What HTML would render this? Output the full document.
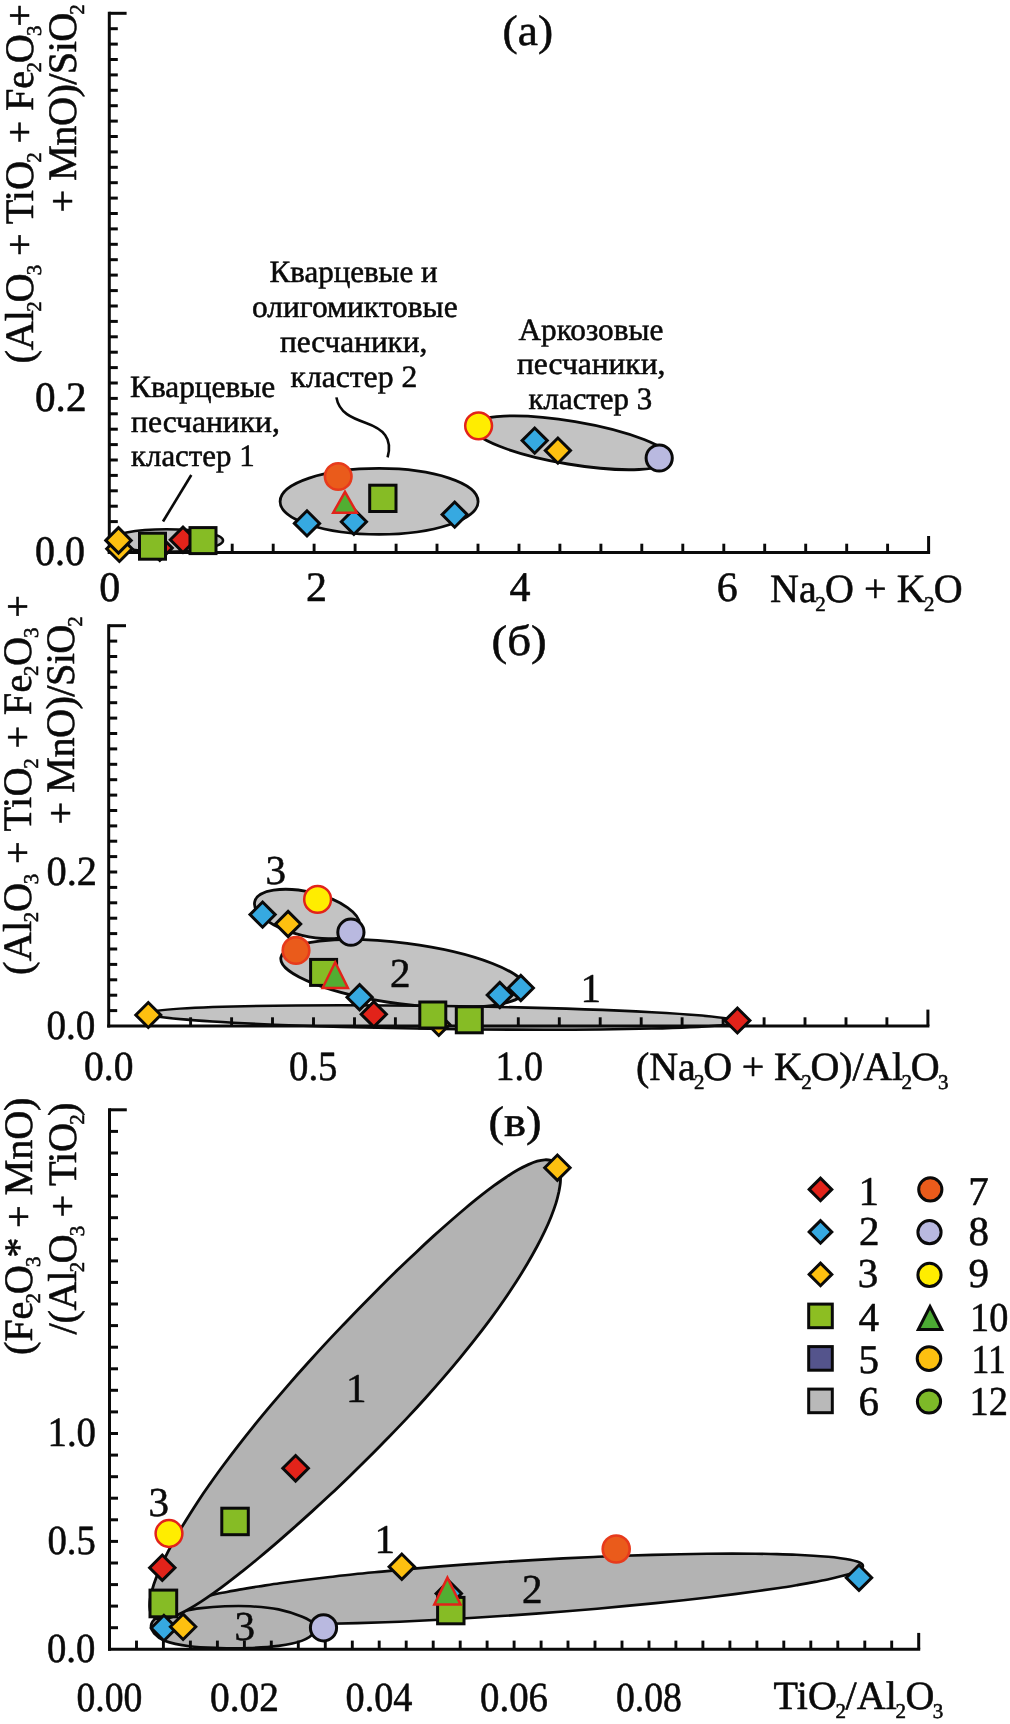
<!DOCTYPE html>
<html lang="ru"><head><meta charset="utf-8"><title>Figure</title>
<style>html,body{margin:0;padding:0;background:#fff}svg{display:block;will-change:transform;text-rendering:geometricPrecision}</style>
</head><body>
<svg width="1010" height="1724" viewBox="0 0 1010 1724" font-family="'Liberation Serif', serif" fill="#0a0a0a">
<style>text{stroke:#0a0a0a;stroke-width:.55px;stroke-linejoin:round}</style>
<rect width="1010" height="1724" fill="#fff"/>
<g id="panel-a">
<ellipse cx="166.5" cy="540.5" rx="56.5" ry="11.2" transform="rotate(0 166.5 540.5)" fill="#c3c3c3" stroke="#0a0a0a" stroke-width="2.6"/>
<ellipse cx="379.1" cy="501.4" rx="99" ry="33" transform="rotate(0 379.1 501.4)" fill="#c3c3c3" stroke="#0a0a0a" stroke-width="2.8"/>
<ellipse cx="571.5" cy="442.8" rx="100.5" ry="21.5" transform="rotate(9.5 571.5 442.8)" fill="#c3c3c3" stroke="#0a0a0a" stroke-width="2.8"/>
<line x1="109.3" y1="11.8" x2="109.3" y2="553.9" stroke="#0a0a0a" stroke-width="3" stroke-linecap="butt"/>
<line x1="107.8" y1="552.4" x2="930.1" y2="552.4" stroke="#0a0a0a" stroke-width="3" stroke-linecap="butt"/>
<line x1="109.3" y1="537.0" x2="117.8" y2="537.0" stroke="#0a0a0a" stroke-width="3" stroke-linecap="butt"/>
<line x1="109.3" y1="521.6" x2="117.8" y2="521.6" stroke="#0a0a0a" stroke-width="3" stroke-linecap="butt"/>
<line x1="109.3" y1="506.2" x2="117.8" y2="506.2" stroke="#0a0a0a" stroke-width="3" stroke-linecap="butt"/>
<line x1="109.3" y1="490.8" x2="117.8" y2="490.8" stroke="#0a0a0a" stroke-width="3" stroke-linecap="butt"/>
<line x1="109.3" y1="475.4" x2="117.8" y2="475.4" stroke="#0a0a0a" stroke-width="3" stroke-linecap="butt"/>
<line x1="109.3" y1="460.0" x2="117.8" y2="460.0" stroke="#0a0a0a" stroke-width="3" stroke-linecap="butt"/>
<line x1="109.3" y1="444.6" x2="117.8" y2="444.6" stroke="#0a0a0a" stroke-width="3" stroke-linecap="butt"/>
<line x1="109.3" y1="429.2" x2="117.8" y2="429.2" stroke="#0a0a0a" stroke-width="3" stroke-linecap="butt"/>
<line x1="109.3" y1="413.8" x2="117.8" y2="413.8" stroke="#0a0a0a" stroke-width="3" stroke-linecap="butt"/>
<line x1="109.3" y1="398.4" x2="117.8" y2="398.4" stroke="#0a0a0a" stroke-width="3" stroke-linecap="butt"/>
<line x1="109.3" y1="383.0" x2="117.8" y2="383.0" stroke="#0a0a0a" stroke-width="3" stroke-linecap="butt"/>
<line x1="109.3" y1="367.6" x2="117.8" y2="367.6" stroke="#0a0a0a" stroke-width="3" stroke-linecap="butt"/>
<line x1="109.3" y1="352.2" x2="117.8" y2="352.2" stroke="#0a0a0a" stroke-width="3" stroke-linecap="butt"/>
<line x1="109.3" y1="336.8" x2="117.8" y2="336.8" stroke="#0a0a0a" stroke-width="3" stroke-linecap="butt"/>
<line x1="109.3" y1="321.4" x2="117.8" y2="321.4" stroke="#0a0a0a" stroke-width="3" stroke-linecap="butt"/>
<line x1="109.3" y1="306.0" x2="117.8" y2="306.0" stroke="#0a0a0a" stroke-width="3" stroke-linecap="butt"/>
<line x1="109.3" y1="290.6" x2="117.8" y2="290.6" stroke="#0a0a0a" stroke-width="3" stroke-linecap="butt"/>
<line x1="109.3" y1="275.1" x2="117.8" y2="275.1" stroke="#0a0a0a" stroke-width="3" stroke-linecap="butt"/>
<line x1="109.3" y1="259.7" x2="117.8" y2="259.7" stroke="#0a0a0a" stroke-width="3" stroke-linecap="butt"/>
<line x1="109.3" y1="244.3" x2="117.8" y2="244.3" stroke="#0a0a0a" stroke-width="3" stroke-linecap="butt"/>
<line x1="109.3" y1="228.9" x2="117.8" y2="228.9" stroke="#0a0a0a" stroke-width="3" stroke-linecap="butt"/>
<line x1="109.3" y1="213.5" x2="117.8" y2="213.5" stroke="#0a0a0a" stroke-width="3" stroke-linecap="butt"/>
<line x1="109.3" y1="198.1" x2="117.8" y2="198.1" stroke="#0a0a0a" stroke-width="3" stroke-linecap="butt"/>
<line x1="109.3" y1="182.7" x2="117.8" y2="182.7" stroke="#0a0a0a" stroke-width="3" stroke-linecap="butt"/>
<line x1="109.3" y1="167.3" x2="117.8" y2="167.3" stroke="#0a0a0a" stroke-width="3" stroke-linecap="butt"/>
<line x1="109.3" y1="151.9" x2="117.8" y2="151.9" stroke="#0a0a0a" stroke-width="3" stroke-linecap="butt"/>
<line x1="109.3" y1="136.5" x2="117.8" y2="136.5" stroke="#0a0a0a" stroke-width="3" stroke-linecap="butt"/>
<line x1="109.3" y1="121.1" x2="117.8" y2="121.1" stroke="#0a0a0a" stroke-width="3" stroke-linecap="butt"/>
<line x1="109.3" y1="105.7" x2="117.8" y2="105.7" stroke="#0a0a0a" stroke-width="3" stroke-linecap="butt"/>
<line x1="109.3" y1="90.3" x2="117.8" y2="90.3" stroke="#0a0a0a" stroke-width="3" stroke-linecap="butt"/>
<line x1="109.3" y1="74.9" x2="117.8" y2="74.9" stroke="#0a0a0a" stroke-width="3" stroke-linecap="butt"/>
<line x1="109.3" y1="59.5" x2="117.8" y2="59.5" stroke="#0a0a0a" stroke-width="3" stroke-linecap="butt"/>
<line x1="109.3" y1="44.1" x2="117.8" y2="44.1" stroke="#0a0a0a" stroke-width="3" stroke-linecap="butt"/>
<line x1="109.3" y1="28.7" x2="117.8" y2="28.7" stroke="#0a0a0a" stroke-width="3" stroke-linecap="butt"/>
<line x1="109.3" y1="13.3" x2="126.6" y2="13.3" stroke="#0a0a0a" stroke-width="3" stroke-linecap="butt"/>
<line x1="150.3" y1="552.4" x2="150.3" y2="543.7" stroke="#0a0a0a" stroke-width="2.9" stroke-linecap="butt"/>
<line x1="191.2" y1="552.4" x2="191.2" y2="543.7" stroke="#0a0a0a" stroke-width="2.9" stroke-linecap="butt"/>
<line x1="232.2" y1="552.4" x2="232.2" y2="543.7" stroke="#0a0a0a" stroke-width="2.9" stroke-linecap="butt"/>
<line x1="273.2" y1="552.4" x2="273.2" y2="543.7" stroke="#0a0a0a" stroke-width="2.9" stroke-linecap="butt"/>
<line x1="314.1" y1="552.4" x2="314.1" y2="543.7" stroke="#0a0a0a" stroke-width="2.9" stroke-linecap="butt"/>
<line x1="355.1" y1="552.4" x2="355.1" y2="543.7" stroke="#0a0a0a" stroke-width="2.9" stroke-linecap="butt"/>
<line x1="396.1" y1="552.4" x2="396.1" y2="543.7" stroke="#0a0a0a" stroke-width="2.9" stroke-linecap="butt"/>
<line x1="437.0" y1="552.4" x2="437.0" y2="543.7" stroke="#0a0a0a" stroke-width="2.9" stroke-linecap="butt"/>
<line x1="478.0" y1="552.4" x2="478.0" y2="543.7" stroke="#0a0a0a" stroke-width="2.9" stroke-linecap="butt"/>
<line x1="519.0" y1="552.4" x2="519.0" y2="543.7" stroke="#0a0a0a" stroke-width="2.9" stroke-linecap="butt"/>
<line x1="559.9" y1="552.4" x2="559.9" y2="543.7" stroke="#0a0a0a" stroke-width="2.9" stroke-linecap="butt"/>
<line x1="600.9" y1="552.4" x2="600.9" y2="543.7" stroke="#0a0a0a" stroke-width="2.9" stroke-linecap="butt"/>
<line x1="641.8" y1="552.4" x2="641.8" y2="543.7" stroke="#0a0a0a" stroke-width="2.9" stroke-linecap="butt"/>
<line x1="682.8" y1="552.4" x2="682.8" y2="543.7" stroke="#0a0a0a" stroke-width="2.9" stroke-linecap="butt"/>
<line x1="723.8" y1="552.4" x2="723.8" y2="543.7" stroke="#0a0a0a" stroke-width="2.9" stroke-linecap="butt"/>
<line x1="764.7" y1="552.4" x2="764.7" y2="543.7" stroke="#0a0a0a" stroke-width="2.9" stroke-linecap="butt"/>
<line x1="805.7" y1="552.4" x2="805.7" y2="543.7" stroke="#0a0a0a" stroke-width="2.9" stroke-linecap="butt"/>
<line x1="846.7" y1="552.4" x2="846.7" y2="543.7" stroke="#0a0a0a" stroke-width="2.9" stroke-linecap="butt"/>
<line x1="887.6" y1="552.4" x2="887.6" y2="543.7" stroke="#0a0a0a" stroke-width="2.9" stroke-linecap="butt"/>
<line x1="928.6" y1="552.4" x2="928.6" y2="536.0" stroke="#0a0a0a" stroke-width="3" stroke-linecap="butt"/>
<line x1="191.3" y1="475.0" x2="163.0" y2="521.5" stroke="#0a0a0a" stroke-width="2.6" stroke-linecap="butt"/>
<path d="M336.4 397.4 C 339 413, 352 418, 366 423 C 383 429, 393 438, 387.6 457.3" fill="none" stroke="#0a0a0a" stroke-width="2.6"/>
<path d="M106.7 548.8L119.4 536.1L132.1 548.8L119.4 561.5Z" fill="#fdc010" stroke="#0a0a0a" stroke-width="3" stroke-linejoin="miter"/>
<path d="M105.8 540.4L118.5 527.7L131.2 540.4L118.5 553.1Z" fill="#fdc010" stroke="#0a0a0a" stroke-width="3" stroke-linejoin="miter"/>
<path d="M147.3 548.0L159.8 535.5L172.3 548.0L159.8 560.5Z" fill="#e2231a" stroke="#0a0a0a" stroke-width="3" stroke-linejoin="miter"/>
<rect x="139.5" y="533.2" width="26" height="26" fill="#86bc25" stroke="#0a0a0a" stroke-width="3"/>
<path d="M170.3 539.8L183.0 527.1L195.7 539.8L183.0 552.5Z" fill="#e2231a" stroke="#0a0a0a" stroke-width="3" stroke-linejoin="miter"/>
<rect x="190.0" y="527.6" width="26" height="26" fill="#86bc25" stroke="#0a0a0a" stroke-width="3"/>
<path d="M294.4 523.4L307.0 510.8L319.6 523.4L307.0 536.0Z" fill="#36a9e1" stroke="#0a0a0a" stroke-width="3" stroke-linejoin="miter"/>
<path d="M341.3 521.8L353.9 509.2L366.5 521.8L353.9 534.4Z" fill="#36a9e1" stroke="#0a0a0a" stroke-width="3" stroke-linejoin="miter"/>
<path d="M442.1 514.6L454.7 502.0L467.3 514.6L454.7 527.2Z" fill="#36a9e1" stroke="#0a0a0a" stroke-width="3" stroke-linejoin="miter"/>
<rect x="369.7" y="485.2" width="26.3" height="26.3" fill="#86bc25" stroke="#0a0a0a" stroke-width="3"/>
<path d="M345.0 491.8L356.8 512.7L333.2 512.7Z" fill="#52ae32" stroke="#e2231a" stroke-width="2.5" stroke-linejoin="miter"/>
<circle cx="338.2" cy="476.5" r="13.3" fill="#ea5b1b" stroke="#e73a1c" stroke-width="2.6"/>
<path d="M522.1 440.6L534.7 428.0L547.3 440.6L534.7 453.2Z" fill="#36a9e1" stroke="#0a0a0a" stroke-width="3" stroke-linejoin="miter"/>
<path d="M545.3 450.6L557.9 438.0L570.5 450.6L557.9 463.2Z" fill="#fdc010" stroke="#0a0a0a" stroke-width="3" stroke-linejoin="miter"/>
<circle cx="478.6" cy="425.8" r="13.4" fill="#ffed00" stroke="#e2231a" stroke-width="2.5"/>
<circle cx="659.2" cy="458.0" r="13.1" fill="#b9b9e0" stroke="#0a0a0a" stroke-width="3"/>
<text x="502.50" y="45.00" font-size="43" textLength="50.55" lengthAdjust="spacingAndGlyphs">(а)</text>
<text x="269.50" y="281.60" font-size="31" textLength="168.02" lengthAdjust="spacingAndGlyphs">Кварцевые и</text>
<text x="252.00" y="316.50" font-size="31" textLength="205.60" lengthAdjust="spacingAndGlyphs">олигомиктовые</text>
<text x="280.00" y="351.70" font-size="31" textLength="147.32" lengthAdjust="spacingAndGlyphs">песчаники,</text>
<text x="290.50" y="386.60" font-size="31" textLength="126.73" lengthAdjust="spacingAndGlyphs">кластер 2</text>
<text x="130.00" y="397.30" font-size="31" textLength="145.28" lengthAdjust="spacingAndGlyphs">Кварцевые</text>
<text x="131.00" y="431.50" font-size="31" textLength="148.87" lengthAdjust="spacingAndGlyphs">песчаники,</text>
<text x="131.00" y="466.20" font-size="31" textLength="123.64" lengthAdjust="spacingAndGlyphs">кластер 1</text>
<text x="518.50" y="340.10" font-size="31" textLength="144.79" lengthAdjust="spacingAndGlyphs">Аркозовые</text>
<text x="517.00" y="374.20" font-size="31" textLength="148.37" lengthAdjust="spacingAndGlyphs">песчаники,</text>
<text x="528.50" y="409.10" font-size="31" textLength="123.65" lengthAdjust="spacingAndGlyphs">кластер 3</text>
<text x="35.00" y="565.30" font-size="42" textLength="49.99" lengthAdjust="spacingAndGlyphs">0.0</text>
<text x="35.00" y="411.00" font-size="42" textLength="51.55" lengthAdjust="spacingAndGlyphs">0.2</text>
<text x="99.30" y="600.80" font-size="42">0</text>
<text x="306.00" y="600.80" font-size="42">2</text>
<text x="509.40" y="600.80" font-size="42">4</text>
<text x="716.70" y="600.80" font-size="42">6</text>
<text x="770.00" y="601.60" font-size="40" textLength="192.68" lengthAdjust="spacing">Na<tspan dy="9.2" dx="-1.6" font-size="21">2</tspan><tspan dy="-9.2" dx="-0.9" font-size="1">&#8203;</tspan>O + K<tspan dy="9.2" dx="-1.6" font-size="21">2</tspan><tspan dy="-9.2" dx="-0.9" font-size="1">&#8203;</tspan>O</text>
<text x="33.10" y="363.50" font-size="40.4" textLength="359.60" lengthAdjust="spacing" transform="rotate(-90 33.10 363.50)">(Al<tspan dy="7.8" dx="-1.6" font-size="21">2</tspan><tspan dy="-7.8" dx="-0.9" font-size="1">&#8203;</tspan>O<tspan dy="7.8" dx="-1.6" font-size="21">3</tspan><tspan dy="-7.8" dx="-0.9" font-size="1">&#8203;</tspan> + TiO<tspan dy="7.8" dx="-1.6" font-size="21">2</tspan><tspan dy="-7.8" dx="-0.9" font-size="1">&#8203;</tspan> + Fe<tspan dy="7.8" dx="-1.6" font-size="21">2</tspan><tspan dy="-7.8" dx="-0.9" font-size="1">&#8203;</tspan>O<tspan dy="7.8" dx="-1.6" font-size="21">3</tspan><tspan dy="-7.8" dx="-0.9" font-size="1">&#8203;</tspan>+</text>
<text x="76.00" y="212.50" font-size="40.4" textLength="207.59" lengthAdjust="spacing" transform="rotate(-90 76.00 212.50)">+ MnO)/SiO<tspan dy="7.8" dx="-1.6" font-size="21">2</tspan><tspan dy="-7.8" dx="-0.9" font-size="1">&#8203;</tspan></text>
</g>
<g id="panel-b">
<ellipse cx="307" cy="914" rx="53.7" ry="22" transform="rotate(13.2 307 914)" fill="#c3c3c3" stroke="#0a0a0a" stroke-width="2.8"/>
<ellipse cx="403.2" cy="973.6" rx="123.4" ry="30.4" transform="rotate(7.4 403.2 973.6)" fill="#c3c3c3" stroke="#0a0a0a" stroke-width="2.8"/>
<ellipse cx="442.5" cy="1017.5" rx="296" ry="11.5" transform="rotate(0.8 442.5 1017.5)" fill="#c3c3c3" stroke="#0a0a0a" stroke-width="2.6"/>
<line x1="108.7" y1="624.2" x2="108.7" y2="1027.5" stroke="#0a0a0a" stroke-width="3" stroke-linecap="butt"/>
<line x1="107.2" y1="1026.0" x2="929.4" y2="1026.0" stroke="#0a0a0a" stroke-width="3" stroke-linecap="butt"/>
<line x1="108.7" y1="1010.6" x2="117.2" y2="1010.6" stroke="#0a0a0a" stroke-width="3" stroke-linecap="butt"/>
<line x1="108.7" y1="995.2" x2="117.2" y2="995.2" stroke="#0a0a0a" stroke-width="3" stroke-linecap="butt"/>
<line x1="108.7" y1="979.8" x2="117.2" y2="979.8" stroke="#0a0a0a" stroke-width="3" stroke-linecap="butt"/>
<line x1="108.7" y1="964.4" x2="117.2" y2="964.4" stroke="#0a0a0a" stroke-width="3" stroke-linecap="butt"/>
<line x1="108.7" y1="949.0" x2="117.2" y2="949.0" stroke="#0a0a0a" stroke-width="3" stroke-linecap="butt"/>
<line x1="108.7" y1="933.6" x2="117.2" y2="933.6" stroke="#0a0a0a" stroke-width="3" stroke-linecap="butt"/>
<line x1="108.7" y1="918.2" x2="117.2" y2="918.2" stroke="#0a0a0a" stroke-width="3" stroke-linecap="butt"/>
<line x1="108.7" y1="902.8" x2="117.2" y2="902.8" stroke="#0a0a0a" stroke-width="3" stroke-linecap="butt"/>
<line x1="108.7" y1="887.4" x2="117.2" y2="887.4" stroke="#0a0a0a" stroke-width="3" stroke-linecap="butt"/>
<line x1="108.7" y1="872.0" x2="117.2" y2="872.0" stroke="#0a0a0a" stroke-width="3" stroke-linecap="butt"/>
<line x1="108.7" y1="856.6" x2="117.2" y2="856.6" stroke="#0a0a0a" stroke-width="3" stroke-linecap="butt"/>
<line x1="108.7" y1="841.2" x2="117.2" y2="841.2" stroke="#0a0a0a" stroke-width="3" stroke-linecap="butt"/>
<line x1="108.7" y1="825.9" x2="117.2" y2="825.9" stroke="#0a0a0a" stroke-width="3" stroke-linecap="butt"/>
<line x1="108.7" y1="810.5" x2="117.2" y2="810.5" stroke="#0a0a0a" stroke-width="3" stroke-linecap="butt"/>
<line x1="108.7" y1="795.1" x2="117.2" y2="795.1" stroke="#0a0a0a" stroke-width="3" stroke-linecap="butt"/>
<line x1="108.7" y1="779.7" x2="117.2" y2="779.7" stroke="#0a0a0a" stroke-width="3" stroke-linecap="butt"/>
<line x1="108.7" y1="764.3" x2="117.2" y2="764.3" stroke="#0a0a0a" stroke-width="3" stroke-linecap="butt"/>
<line x1="108.7" y1="748.9" x2="117.2" y2="748.9" stroke="#0a0a0a" stroke-width="3" stroke-linecap="butt"/>
<line x1="108.7" y1="733.5" x2="117.2" y2="733.5" stroke="#0a0a0a" stroke-width="3" stroke-linecap="butt"/>
<line x1="108.7" y1="718.1" x2="117.2" y2="718.1" stroke="#0a0a0a" stroke-width="3" stroke-linecap="butt"/>
<line x1="108.7" y1="702.7" x2="117.2" y2="702.7" stroke="#0a0a0a" stroke-width="3" stroke-linecap="butt"/>
<line x1="108.7" y1="687.3" x2="117.2" y2="687.3" stroke="#0a0a0a" stroke-width="3" stroke-linecap="butt"/>
<line x1="108.7" y1="671.9" x2="117.2" y2="671.9" stroke="#0a0a0a" stroke-width="3" stroke-linecap="butt"/>
<line x1="108.7" y1="656.5" x2="117.2" y2="656.5" stroke="#0a0a0a" stroke-width="3" stroke-linecap="butt"/>
<line x1="108.7" y1="641.1" x2="117.2" y2="641.1" stroke="#0a0a0a" stroke-width="3" stroke-linecap="butt"/>
<line x1="108.7" y1="625.7" x2="126.0" y2="625.7" stroke="#0a0a0a" stroke-width="3" stroke-linecap="butt"/>
<line x1="149.7" y1="1026.0" x2="149.7" y2="1017.3" stroke="#0a0a0a" stroke-width="2.9" stroke-linecap="butt"/>
<line x1="190.6" y1="1026.0" x2="190.6" y2="1017.3" stroke="#0a0a0a" stroke-width="2.9" stroke-linecap="butt"/>
<line x1="231.6" y1="1026.0" x2="231.6" y2="1017.3" stroke="#0a0a0a" stroke-width="2.9" stroke-linecap="butt"/>
<line x1="272.5" y1="1026.0" x2="272.5" y2="1017.3" stroke="#0a0a0a" stroke-width="2.9" stroke-linecap="butt"/>
<line x1="313.5" y1="1026.0" x2="313.5" y2="1017.3" stroke="#0a0a0a" stroke-width="2.9" stroke-linecap="butt"/>
<line x1="354.5" y1="1026.0" x2="354.5" y2="1017.3" stroke="#0a0a0a" stroke-width="2.9" stroke-linecap="butt"/>
<line x1="395.4" y1="1026.0" x2="395.4" y2="1017.3" stroke="#0a0a0a" stroke-width="2.9" stroke-linecap="butt"/>
<line x1="436.4" y1="1026.0" x2="436.4" y2="1017.3" stroke="#0a0a0a" stroke-width="2.9" stroke-linecap="butt"/>
<line x1="477.3" y1="1026.0" x2="477.3" y2="1017.3" stroke="#0a0a0a" stroke-width="2.9" stroke-linecap="butt"/>
<line x1="518.3" y1="1026.0" x2="518.3" y2="1017.3" stroke="#0a0a0a" stroke-width="2.9" stroke-linecap="butt"/>
<line x1="559.3" y1="1026.0" x2="559.3" y2="1017.3" stroke="#0a0a0a" stroke-width="2.9" stroke-linecap="butt"/>
<line x1="600.2" y1="1026.0" x2="600.2" y2="1017.3" stroke="#0a0a0a" stroke-width="2.9" stroke-linecap="butt"/>
<line x1="641.2" y1="1026.0" x2="641.2" y2="1017.3" stroke="#0a0a0a" stroke-width="2.9" stroke-linecap="butt"/>
<line x1="682.1" y1="1026.0" x2="682.1" y2="1017.3" stroke="#0a0a0a" stroke-width="2.9" stroke-linecap="butt"/>
<line x1="723.1" y1="1026.0" x2="723.1" y2="1017.3" stroke="#0a0a0a" stroke-width="2.9" stroke-linecap="butt"/>
<line x1="764.1" y1="1026.0" x2="764.1" y2="1017.3" stroke="#0a0a0a" stroke-width="2.9" stroke-linecap="butt"/>
<line x1="805.0" y1="1026.0" x2="805.0" y2="1017.3" stroke="#0a0a0a" stroke-width="2.9" stroke-linecap="butt"/>
<line x1="846.0" y1="1026.0" x2="846.0" y2="1017.3" stroke="#0a0a0a" stroke-width="2.9" stroke-linecap="butt"/>
<line x1="886.9" y1="1026.0" x2="886.9" y2="1017.3" stroke="#0a0a0a" stroke-width="2.9" stroke-linecap="butt"/>
<line x1="927.9" y1="1026.0" x2="927.9" y2="1009.6" stroke="#0a0a0a" stroke-width="3" stroke-linecap="butt"/>
<path d="M135.8 1015.0L148.3 1002.5L160.8 1015.0L148.3 1027.5Z" fill="#fdc010" stroke="#0a0a0a" stroke-width="3" stroke-linejoin="miter"/>
<path d="M724.9 1020.5L737.4 1008.0L749.9 1020.5L737.4 1033.0Z" fill="#e2231a" stroke="#0a0a0a" stroke-width="3" stroke-linejoin="miter"/>
<path d="M427.8 1024.5L438.8 1013.5L449.8 1024.5L438.8 1035.5Z" fill="#fdc010" stroke="#0a0a0a" stroke-width="3" stroke-linejoin="miter"/>
<rect x="419.8" y="1002.0" width="26" height="26" fill="#86bc25" stroke="#0a0a0a" stroke-width="3"/>
<rect x="456.3" y="1006.8" width="26" height="26" fill="#86bc25" stroke="#0a0a0a" stroke-width="3"/>
<path d="M361.2 1014.3L373.8 1001.7L386.4 1014.3L373.8 1026.9Z" fill="#e2231a" stroke="#0a0a0a" stroke-width="3" stroke-linejoin="miter"/>
<path d="M347.0 997.2L359.6 984.6L372.2 997.2L359.6 1009.8Z" fill="#36a9e1" stroke="#0a0a0a" stroke-width="3" stroke-linejoin="miter"/>
<path d="M487.2 995.0L499.8 982.4L512.4 995.0L499.8 1007.6Z" fill="#36a9e1" stroke="#0a0a0a" stroke-width="3" stroke-linejoin="miter"/>
<path d="M508.2 988.0L520.8 975.4L533.4 988.0L520.8 1000.6Z" fill="#36a9e1" stroke="#0a0a0a" stroke-width="3" stroke-linejoin="miter"/>
<rect x="310.6" y="959.4" width="26" height="26" fill="#86bc25" stroke="#0a0a0a" stroke-width="3"/>
<path d="M335.2 962.3L347.9 987.9L322.6 987.9Z" fill="#52ae32" stroke="#e2231a" stroke-width="2.5" stroke-linejoin="miter"/>
<circle cx="296.0" cy="950.4" r="13.3" fill="#ea5b1b" stroke="#e73a1c" stroke-width="2.6"/>
<path d="M250.0 914.6L262.6 902.0L275.2 914.6L262.6 927.2Z" fill="#36a9e1" stroke="#0a0a0a" stroke-width="3" stroke-linejoin="miter"/>
<path d="M275.5 924.0L288.1 911.4L300.7 924.0L288.1 936.6Z" fill="#fdc010" stroke="#0a0a0a" stroke-width="3" stroke-linejoin="miter"/>
<circle cx="317.6" cy="899.4" r="13.4" fill="#ffed00" stroke="#e2231a" stroke-width="2.5"/>
<circle cx="350.9" cy="932.2" r="13.1" fill="#b9b9e0" stroke="#0a0a0a" stroke-width="3"/>
<text x="491.50" y="655.10" font-size="43" textLength="55.18" lengthAdjust="spacingAndGlyphs">(б)</text>
<text x="46.50" y="1039.00" font-size="41.5" textLength="48.94" lengthAdjust="spacingAndGlyphs">0.0</text>
<text x="46.50" y="885.00" font-size="41.5" textLength="50.54" lengthAdjust="spacingAndGlyphs">0.2</text>
<text x="84.00" y="1079.50" font-size="41.5" textLength="49.45" lengthAdjust="spacingAndGlyphs">0.0</text>
<text x="289.00" y="1079.50" font-size="41.5" textLength="48.47" lengthAdjust="spacingAndGlyphs">0.5</text>
<text x="495.50" y="1079.50" font-size="41.5" textLength="47.55" lengthAdjust="spacingAndGlyphs">1.0</text>
<text x="636.00" y="1079.60" font-size="40" textLength="312.25" lengthAdjust="spacing">(Na<tspan dy="9.2" dx="-1.6" font-size="21">2</tspan><tspan dy="-9.2" dx="-0.9" font-size="1">&#8203;</tspan>O + K<tspan dy="9.2" dx="-1.6" font-size="21">2</tspan><tspan dy="-9.2" dx="-0.9" font-size="1">&#8203;</tspan>O)/Al<tspan dy="9.2" dx="-1.6" font-size="21">2</tspan><tspan dy="-9.2" dx="-0.9" font-size="1">&#8203;</tspan>O<tspan dy="9.2" dx="-1.6" font-size="21">3</tspan><tspan dy="-9.2" dx="-0.9" font-size="1">&#8203;</tspan></text>
<text x="265.50" y="883.70" font-size="41">3</text>
<text x="390.00" y="986.60" font-size="41">2</text>
<text x="580.50" y="1001.50" font-size="41">1</text>
<text x="30.60" y="975.00" font-size="40.4" textLength="380.00" lengthAdjust="spacing" transform="rotate(-90 30.60 975.00)">(Al<tspan dy="7.8" dx="-1.6" font-size="21">2</tspan><tspan dy="-7.8" dx="-0.9" font-size="1">&#8203;</tspan>O<tspan dy="7.8" dx="-1.6" font-size="21">3</tspan><tspan dy="-7.8" dx="-0.9" font-size="1">&#8203;</tspan> + TiO<tspan dy="7.8" dx="-1.6" font-size="21">2</tspan><tspan dy="-7.8" dx="-0.9" font-size="1">&#8203;</tspan> + Fe<tspan dy="7.8" dx="-1.6" font-size="21">2</tspan><tspan dy="-7.8" dx="-0.9" font-size="1">&#8203;</tspan>O<tspan dy="7.8" dx="-1.6" font-size="21">3</tspan><tspan dy="-7.8" dx="-0.9" font-size="1">&#8203;</tspan> +</text>
<text x="74.20" y="824.50" font-size="40.4" textLength="207.60" lengthAdjust="spacing" transform="rotate(-90 74.20 824.50)">+ MnO)/SiO<tspan dy="7.8" dx="-1.6" font-size="21">2</tspan><tspan dy="-7.8" dx="-0.9" font-size="1">&#8203;</tspan></text>
</g>
<g id="panel-v">
<path d="M863.0 1566.0C863.0 1566.8 862.7 1567.4 861.8 1568.2C860.9 1569.0 859.6 1569.8 857.8 1570.7C856.0 1571.6 853.8 1572.5 851.1 1573.4C848.4 1574.3 845.3 1575.2 841.7 1576.1C838.1 1577.0 834.1 1578.0 829.7 1579.0C825.3 1580.0 820.3 1580.9 815.1 1581.9C809.9 1582.9 804.3 1583.9 798.3 1584.9C792.3 1585.9 785.8 1587.0 779.1 1588.0C772.4 1589.0 765.3 1590.0 757.9 1591.0C750.5 1592.0 742.7 1593.1 734.7 1594.1C726.7 1595.1 718.3 1596.2 709.8 1597.2C701.2 1598.2 692.4 1599.2 683.4 1600.2C674.4 1601.2 665.1 1602.1 655.7 1603.1C646.3 1604.0 636.6 1605.0 626.8 1605.9C617.0 1606.8 607.1 1607.8 597.1 1608.7C587.1 1609.6 576.9 1610.4 566.7 1611.2C556.5 1612.0 546.3 1612.8 536.0 1613.6C525.7 1614.4 515.4 1615.1 505.1 1615.8C494.8 1616.5 484.6 1617.2 474.4 1617.8C464.2 1618.4 454.0 1619.0 444.0 1619.5C434.0 1620.0 424.0 1620.5 414.2 1621.0C404.4 1621.5 394.7 1621.9 385.2 1622.2C375.7 1622.5 366.4 1622.8 357.3 1623.1C348.2 1623.3 339.3 1623.5 330.7 1623.7C322.1 1623.9 313.7 1624.0 305.6 1624.0C297.5 1624.0 289.8 1624.0 282.3 1623.9C274.8 1623.8 267.6 1623.8 260.8 1623.6C254.0 1623.4 247.5 1623.2 241.4 1622.9C235.3 1622.6 229.6 1622.3 224.3 1621.9C219.0 1621.5 214.0 1621.1 209.5 1620.6C205.0 1620.1 200.9 1619.6 197.2 1619.1C193.5 1618.5 190.3 1617.9 187.5 1617.3C184.7 1616.7 182.4 1615.9 180.5 1615.2C178.6 1614.5 177.2 1613.7 176.2 1612.9C175.2 1612.1 174.7 1611.4 174.6 1610.6C174.5 1609.8 174.9 1608.7 175.8 1607.8C176.7 1606.9 178.0 1606.0 179.8 1605.0C181.6 1604.0 183.8 1603.0 186.5 1602.0C189.2 1601.0 192.3 1600.0 195.9 1599.0C199.5 1598.0 203.5 1596.9 207.9 1595.9C212.3 1594.9 217.2 1593.8 222.4 1592.8C227.6 1591.8 233.3 1590.6 239.3 1589.6C245.3 1588.5 251.7 1587.5 258.4 1586.5C265.1 1585.5 272.3 1584.3 279.7 1583.3C287.1 1582.3 294.8 1581.3 302.8 1580.3C310.8 1579.3 319.1 1578.3 327.7 1577.3C336.2 1576.3 345.1 1575.2 354.1 1574.3C363.1 1573.3 372.4 1572.5 381.9 1571.6C391.3 1570.7 401.0 1569.8 410.8 1568.9C420.6 1568.0 430.5 1567.2 440.5 1566.4C450.5 1565.6 460.7 1564.8 470.9 1564.1C481.1 1563.4 491.3 1562.7 501.6 1562.0C511.9 1561.3 522.2 1560.7 532.5 1560.1C542.8 1559.5 553.1 1558.9 563.3 1558.4C573.5 1557.9 583.7 1557.4 593.7 1557.0C603.7 1556.6 613.7 1556.1 623.5 1555.8C633.3 1555.5 643.0 1555.2 652.5 1554.9C662.0 1554.6 671.3 1554.4 680.4 1554.2C689.5 1554.0 698.4 1553.9 707.0 1553.8C715.6 1553.7 724.0 1553.6 732.1 1553.6C740.2 1553.6 748.0 1553.6 755.5 1553.7C763.0 1553.8 770.1 1553.9 776.9 1554.1C783.7 1554.3 790.2 1554.5 796.3 1554.8C802.4 1555.1 808.2 1555.4 813.5 1555.7C818.8 1556.0 823.7 1556.4 828.2 1556.8C832.7 1557.2 836.8 1557.7 840.5 1558.2C844.2 1558.7 847.4 1559.2 850.2 1559.8C853.0 1560.4 855.3 1561.0 857.2 1561.6C859.1 1562.2 860.5 1562.9 861.5 1563.6C862.5 1564.3 863.0 1565.2 863.0 1566.0Z" fill="#b3b3b3" stroke="#0a0a0a" stroke-width="2.6" stroke-linejoin="round"/>
<path d="M151.0 1626.0C151.1 1623.8 152.3 1621.3 154.5 1619.5C156.7 1617.7 160.0 1616.3 164.0 1615.0C168.0 1613.7 172.5 1613.0 178.7 1611.8C184.9 1610.6 193.6 1609.0 201.3 1608.1C209.0 1607.2 216.9 1606.6 225.0 1606.3C233.1 1606.0 241.1 1605.8 250.0 1606.3C258.9 1606.8 269.8 1607.7 278.5 1609.4C287.2 1611.2 296.4 1614.4 302.3 1616.8C308.2 1619.2 311.9 1621.5 314.0 1624.0C316.1 1626.5 316.9 1628.7 315.0 1631.5C313.1 1634.3 308.4 1638.2 302.3 1640.6C296.2 1643.0 287.4 1644.7 278.5 1645.9C269.6 1647.1 258.7 1647.7 248.8 1648.0C238.9 1648.3 229.0 1648.3 219.1 1648.0C209.2 1647.7 198.5 1647.5 189.4 1646.3C180.3 1645.1 170.4 1643.0 164.5 1640.8C158.6 1638.6 156.1 1635.5 153.8 1633.0C151.6 1630.5 150.9 1628.2 151.0 1626.0Z" fill="#b3b3b3" stroke="#0a0a0a" stroke-width="2.6" stroke-linejoin="round"/>
<path d="M556.1 1163.4C557.4 1164.6 558.0 1165.6 558.7 1167.3C559.4 1169.0 560.0 1171.3 560.3 1173.7C560.6 1176.1 560.6 1178.8 560.4 1181.8C560.2 1184.8 559.6 1188.1 558.9 1191.7C558.1 1195.3 557.2 1199.2 555.9 1203.3C554.6 1207.4 553.0 1211.8 551.2 1216.4C549.4 1221.0 547.3 1225.8 544.9 1230.8C542.5 1235.8 539.9 1241.1 537.0 1246.5C534.1 1251.9 531.0 1257.5 527.6 1263.3C524.2 1269.0 520.6 1275.0 516.7 1281.0C512.8 1287.0 508.7 1293.2 504.4 1299.5C500.1 1305.8 495.6 1312.1 490.8 1318.6C486.1 1325.0 481.0 1331.6 475.9 1338.2C470.8 1344.8 465.4 1351.4 459.9 1358.1C454.4 1364.8 448.8 1371.4 443.0 1378.1C437.2 1384.8 431.3 1391.5 425.3 1398.2C419.3 1404.9 413.2 1411.5 407.0 1418.1C400.8 1424.7 394.4 1431.3 388.1 1437.8C381.8 1444.3 375.5 1450.8 369.1 1457.1C362.7 1463.4 356.3 1469.7 349.9 1475.9C343.5 1482.1 337.2 1488.2 330.9 1494.1C324.6 1500.0 318.3 1505.8 312.1 1511.4C305.9 1517.0 299.7 1522.6 293.7 1527.9C287.7 1533.2 281.8 1538.4 276.0 1543.4C270.2 1548.4 264.5 1553.2 259.0 1557.8C253.5 1562.4 248.1 1566.8 242.9 1570.9C237.7 1575.0 232.6 1578.9 227.8 1582.6C223.0 1586.3 218.4 1589.7 213.9 1592.9C209.4 1596.1 205.2 1599.0 201.1 1601.6C197.0 1604.2 193.2 1606.6 189.6 1608.7C186.0 1610.8 182.6 1612.5 179.5 1614.0C176.4 1615.5 173.5 1616.7 170.8 1617.5C168.1 1618.3 165.7 1618.9 163.5 1619.1C161.3 1619.3 159.3 1619.2 157.7 1618.9C156.1 1618.6 155.2 1618.3 154.0 1617.3C152.8 1616.3 151.5 1614.5 150.8 1612.8C150.1 1611.1 149.8 1609.2 149.7 1606.9C149.6 1604.6 149.7 1602.1 150.1 1599.2C150.5 1596.3 151.2 1593.2 152.2 1589.8C153.1 1586.4 154.3 1582.7 155.8 1578.8C157.3 1574.9 159.0 1570.7 161.0 1566.2C163.0 1561.8 165.3 1557.0 167.8 1552.1C170.3 1547.2 173.1 1542.1 176.1 1536.8C179.1 1531.5 182.4 1526.1 185.9 1520.4C189.4 1514.8 193.1 1508.9 197.0 1502.9C200.9 1496.9 205.1 1490.7 209.5 1484.5C213.9 1478.3 218.4 1471.9 223.2 1465.5C228.0 1459.1 233.0 1452.5 238.1 1445.9C243.2 1439.3 248.5 1432.6 253.9 1425.9C259.3 1419.2 264.9 1412.5 270.6 1405.7C276.3 1398.9 282.1 1392.1 288.0 1385.3C293.9 1378.5 299.9 1371.7 306.0 1365.0C312.1 1358.3 318.2 1351.5 324.3 1344.9C330.4 1338.3 336.7 1331.7 342.9 1325.2C349.1 1318.7 355.3 1312.2 361.5 1305.9C367.7 1299.6 373.9 1293.3 380.0 1287.2C386.1 1281.1 392.2 1275.1 398.2 1269.3C404.2 1263.5 410.2 1257.9 416.0 1252.4C421.8 1246.9 427.6 1241.5 433.2 1236.4C438.8 1231.3 444.3 1226.4 449.7 1221.7C455.1 1217.0 460.3 1212.5 465.4 1208.2C470.5 1204.0 475.4 1200.0 480.2 1196.2C484.9 1192.5 489.5 1188.9 493.9 1185.7C498.3 1182.5 502.6 1179.6 506.6 1176.9C510.6 1174.2 514.4 1171.8 518.0 1169.8C521.6 1167.8 525.1 1166.0 528.3 1164.6C531.5 1163.2 534.5 1162.0 537.2 1161.2C539.9 1160.4 542.4 1159.9 544.7 1159.8C547.0 1159.7 548.9 1159.8 550.8 1160.4C552.7 1161.0 554.8 1162.2 556.1 1163.4Z" fill="#b3b3b3" stroke="#0a0a0a" stroke-width="2.8" stroke-linejoin="round"/>
<line x1="109.5" y1="1108.3" x2="109.5" y2="1650.8" stroke="#0a0a0a" stroke-width="3" stroke-linecap="butt"/>
<line x1="108.0" y1="1649.3" x2="920.2" y2="1649.3" stroke="#0a0a0a" stroke-width="3" stroke-linecap="butt"/>
<line x1="109.5" y1="1627.7" x2="118.0" y2="1627.7" stroke="#0a0a0a" stroke-width="3" stroke-linecap="butt"/>
<line x1="109.5" y1="1606.1" x2="118.0" y2="1606.1" stroke="#0a0a0a" stroke-width="3" stroke-linecap="butt"/>
<line x1="109.5" y1="1584.6" x2="118.0" y2="1584.6" stroke="#0a0a0a" stroke-width="3" stroke-linecap="butt"/>
<line x1="109.5" y1="1563.0" x2="118.0" y2="1563.0" stroke="#0a0a0a" stroke-width="3" stroke-linecap="butt"/>
<line x1="109.5" y1="1541.4" x2="118.0" y2="1541.4" stroke="#0a0a0a" stroke-width="3" stroke-linecap="butt"/>
<line x1="109.5" y1="1519.8" x2="118.0" y2="1519.8" stroke="#0a0a0a" stroke-width="3" stroke-linecap="butt"/>
<line x1="109.5" y1="1498.2" x2="118.0" y2="1498.2" stroke="#0a0a0a" stroke-width="3" stroke-linecap="butt"/>
<line x1="109.5" y1="1476.7" x2="118.0" y2="1476.7" stroke="#0a0a0a" stroke-width="3" stroke-linecap="butt"/>
<line x1="109.5" y1="1455.1" x2="118.0" y2="1455.1" stroke="#0a0a0a" stroke-width="3" stroke-linecap="butt"/>
<line x1="109.5" y1="1433.5" x2="118.0" y2="1433.5" stroke="#0a0a0a" stroke-width="3" stroke-linecap="butt"/>
<line x1="109.5" y1="1411.9" x2="118.0" y2="1411.9" stroke="#0a0a0a" stroke-width="3" stroke-linecap="butt"/>
<line x1="109.5" y1="1390.3" x2="118.0" y2="1390.3" stroke="#0a0a0a" stroke-width="3" stroke-linecap="butt"/>
<line x1="109.5" y1="1368.8" x2="118.0" y2="1368.8" stroke="#0a0a0a" stroke-width="3" stroke-linecap="butt"/>
<line x1="109.5" y1="1347.2" x2="118.0" y2="1347.2" stroke="#0a0a0a" stroke-width="3" stroke-linecap="butt"/>
<line x1="109.5" y1="1325.6" x2="118.0" y2="1325.6" stroke="#0a0a0a" stroke-width="3" stroke-linecap="butt"/>
<line x1="109.5" y1="1304.0" x2="118.0" y2="1304.0" stroke="#0a0a0a" stroke-width="3" stroke-linecap="butt"/>
<line x1="109.5" y1="1282.4" x2="118.0" y2="1282.4" stroke="#0a0a0a" stroke-width="3" stroke-linecap="butt"/>
<line x1="109.5" y1="1260.9" x2="118.0" y2="1260.9" stroke="#0a0a0a" stroke-width="3" stroke-linecap="butt"/>
<line x1="109.5" y1="1239.3" x2="118.0" y2="1239.3" stroke="#0a0a0a" stroke-width="3" stroke-linecap="butt"/>
<line x1="109.5" y1="1217.7" x2="118.0" y2="1217.7" stroke="#0a0a0a" stroke-width="3" stroke-linecap="butt"/>
<line x1="109.5" y1="1196.1" x2="118.0" y2="1196.1" stroke="#0a0a0a" stroke-width="3" stroke-linecap="butt"/>
<line x1="109.5" y1="1174.5" x2="118.0" y2="1174.5" stroke="#0a0a0a" stroke-width="3" stroke-linecap="butt"/>
<line x1="109.5" y1="1153.0" x2="118.0" y2="1153.0" stroke="#0a0a0a" stroke-width="3" stroke-linecap="butt"/>
<line x1="109.5" y1="1131.4" x2="118.0" y2="1131.4" stroke="#0a0a0a" stroke-width="3" stroke-linecap="butt"/>
<line x1="109.5" y1="1109.8" x2="126.8" y2="1109.8" stroke="#0a0a0a" stroke-width="3" stroke-linecap="butt"/>
<line x1="136.5" y1="1649.3" x2="136.5" y2="1640.6" stroke="#0a0a0a" stroke-width="2.9" stroke-linecap="butt"/>
<line x1="163.4" y1="1649.3" x2="163.4" y2="1640.6" stroke="#0a0a0a" stroke-width="2.9" stroke-linecap="butt"/>
<line x1="190.4" y1="1649.3" x2="190.4" y2="1640.6" stroke="#0a0a0a" stroke-width="2.9" stroke-linecap="butt"/>
<line x1="217.4" y1="1649.3" x2="217.4" y2="1640.6" stroke="#0a0a0a" stroke-width="2.9" stroke-linecap="butt"/>
<line x1="244.4" y1="1649.3" x2="244.4" y2="1640.6" stroke="#0a0a0a" stroke-width="2.9" stroke-linecap="butt"/>
<line x1="271.3" y1="1649.3" x2="271.3" y2="1640.6" stroke="#0a0a0a" stroke-width="2.9" stroke-linecap="butt"/>
<line x1="298.3" y1="1649.3" x2="298.3" y2="1640.6" stroke="#0a0a0a" stroke-width="2.9" stroke-linecap="butt"/>
<line x1="325.3" y1="1649.3" x2="325.3" y2="1640.6" stroke="#0a0a0a" stroke-width="2.9" stroke-linecap="butt"/>
<line x1="352.3" y1="1649.3" x2="352.3" y2="1640.6" stroke="#0a0a0a" stroke-width="2.9" stroke-linecap="butt"/>
<line x1="379.2" y1="1649.3" x2="379.2" y2="1640.6" stroke="#0a0a0a" stroke-width="2.9" stroke-linecap="butt"/>
<line x1="406.2" y1="1649.3" x2="406.2" y2="1640.6" stroke="#0a0a0a" stroke-width="2.9" stroke-linecap="butt"/>
<line x1="433.2" y1="1649.3" x2="433.2" y2="1640.6" stroke="#0a0a0a" stroke-width="2.9" stroke-linecap="butt"/>
<line x1="460.2" y1="1649.3" x2="460.2" y2="1640.6" stroke="#0a0a0a" stroke-width="2.9" stroke-linecap="butt"/>
<line x1="487.1" y1="1649.3" x2="487.1" y2="1640.6" stroke="#0a0a0a" stroke-width="2.9" stroke-linecap="butt"/>
<line x1="514.1" y1="1649.3" x2="514.1" y2="1640.6" stroke="#0a0a0a" stroke-width="2.9" stroke-linecap="butt"/>
<line x1="541.1" y1="1649.3" x2="541.1" y2="1640.6" stroke="#0a0a0a" stroke-width="2.9" stroke-linecap="butt"/>
<line x1="568.0" y1="1649.3" x2="568.0" y2="1640.6" stroke="#0a0a0a" stroke-width="2.9" stroke-linecap="butt"/>
<line x1="595.0" y1="1649.3" x2="595.0" y2="1640.6" stroke="#0a0a0a" stroke-width="2.9" stroke-linecap="butt"/>
<line x1="622.0" y1="1649.3" x2="622.0" y2="1640.6" stroke="#0a0a0a" stroke-width="2.9" stroke-linecap="butt"/>
<line x1="649.0" y1="1649.3" x2="649.0" y2="1640.6" stroke="#0a0a0a" stroke-width="2.9" stroke-linecap="butt"/>
<line x1="675.9" y1="1649.3" x2="675.9" y2="1640.6" stroke="#0a0a0a" stroke-width="2.9" stroke-linecap="butt"/>
<line x1="702.9" y1="1649.3" x2="702.9" y2="1640.6" stroke="#0a0a0a" stroke-width="2.9" stroke-linecap="butt"/>
<line x1="729.9" y1="1649.3" x2="729.9" y2="1640.6" stroke="#0a0a0a" stroke-width="2.9" stroke-linecap="butt"/>
<line x1="756.9" y1="1649.3" x2="756.9" y2="1640.6" stroke="#0a0a0a" stroke-width="2.9" stroke-linecap="butt"/>
<line x1="783.8" y1="1649.3" x2="783.8" y2="1640.6" stroke="#0a0a0a" stroke-width="2.9" stroke-linecap="butt"/>
<line x1="810.8" y1="1649.3" x2="810.8" y2="1640.6" stroke="#0a0a0a" stroke-width="2.9" stroke-linecap="butt"/>
<line x1="837.8" y1="1649.3" x2="837.8" y2="1640.6" stroke="#0a0a0a" stroke-width="2.9" stroke-linecap="butt"/>
<line x1="864.8" y1="1649.3" x2="864.8" y2="1640.6" stroke="#0a0a0a" stroke-width="2.9" stroke-linecap="butt"/>
<line x1="891.7" y1="1649.3" x2="891.7" y2="1640.6" stroke="#0a0a0a" stroke-width="2.9" stroke-linecap="butt"/>
<line x1="918.7" y1="1649.3" x2="918.7" y2="1632.9" stroke="#0a0a0a" stroke-width="3" stroke-linecap="butt"/>
<path d="M544.7 1167.7L557.4 1155.0L570.1 1167.7L557.4 1180.4Z" fill="#fdc010" stroke="#0a0a0a" stroke-width="3" stroke-linejoin="miter"/>
<path d="M282.8 1468.3L295.6 1455.5L308.4 1468.3L295.6 1481.1Z" fill="#e2231a" stroke="#0a0a0a" stroke-width="3" stroke-linejoin="miter"/>
<rect x="221.8" y="1508.2" width="26.5" height="26.5" fill="#86bc25" stroke="#0a0a0a" stroke-width="3"/>
<circle cx="169.0" cy="1533.5" r="13.4" fill="#ffed00" stroke="#e2231a" stroke-width="2.5"/>
<path d="M149.6 1567.7L162.3 1555.0L175.0 1567.7L162.3 1580.4Z" fill="#e2231a" stroke="#0a0a0a" stroke-width="3" stroke-linejoin="miter"/>
<rect x="150.0" y="1590.1" width="26.7" height="26.7" fill="#86bc25" stroke="#0a0a0a" stroke-width="3"/>
<path d="M151.2 1628.0L163.9 1615.3L176.6 1628.0L163.9 1640.7Z" fill="#36a9e1" stroke="#0a0a0a" stroke-width="3" stroke-linejoin="miter"/>
<path d="M170.4 1626.8L183.1 1614.1L195.8 1626.8L183.1 1639.5Z" fill="#fdc010" stroke="#0a0a0a" stroke-width="3" stroke-linejoin="miter"/>
<circle cx="323.5" cy="1627.8" r="13.1" fill="#b9b9e0" stroke="#0a0a0a" stroke-width="3"/>
<path d="M389.1 1566.7L401.8 1554.0L414.5 1566.7L401.8 1579.4Z" fill="#fdc010" stroke="#0a0a0a" stroke-width="3" stroke-linejoin="miter"/>
<path d="M436.1 1593.5L448.8 1580.8L461.5 1593.5L448.8 1606.2Z" fill="#36a9e1" stroke="#0a0a0a" stroke-width="3" stroke-linejoin="miter"/>
<rect x="437.6" y="1597.4" width="26.4" height="26.4" fill="#86bc25" stroke="#0a0a0a" stroke-width="3"/>
<path d="M447.4 1577.6L460.5 1604.5L434.3 1604.5Z" fill="#52ae32" stroke="#e2231a" stroke-width="2.5" stroke-linejoin="miter"/>
<circle cx="616.2" cy="1549.0" r="13.5" fill="#ea5b1b" stroke="#e73a1c" stroke-width="2.6"/>
<path d="M846.3 1577.7L859.0 1565.0L871.7 1577.7L859.0 1590.4Z" fill="#36a9e1" stroke="#0a0a0a" stroke-width="3" stroke-linejoin="miter"/>
<text x="488.50" y="1135.50" font-size="43" textLength="53.11" lengthAdjust="spacingAndGlyphs">(в)</text>
<text x="47.00" y="1662.00" font-size="41.5" textLength="48.42" lengthAdjust="spacingAndGlyphs">0.0</text>
<text x="47.50" y="1554.00" font-size="41.5" textLength="48.42" lengthAdjust="spacingAndGlyphs">0.5</text>
<text x="47.50" y="1446.10" font-size="41.5" textLength="48.53" lengthAdjust="spacingAndGlyphs">1.0</text>
<text x="76.50" y="1710.50" font-size="41.5" textLength="65.95" lengthAdjust="spacingAndGlyphs">0.00</text>
<text x="210.00" y="1710.50" font-size="41.5" textLength="69.02" lengthAdjust="spacingAndGlyphs">0.02</text>
<text x="345.50" y="1710.50" font-size="41.5" textLength="66.96" lengthAdjust="spacingAndGlyphs">0.04</text>
<text x="480.00" y="1710.50" font-size="41.5" textLength="68.00" lengthAdjust="spacingAndGlyphs">0.06</text>
<text x="616.00" y="1710.50" font-size="41.5" textLength="65.93" lengthAdjust="spacingAndGlyphs">0.08</text>
<text x="773.50" y="1709.00" font-size="40" textLength="170.03" lengthAdjust="spacing">TiO<tspan dy="9.2" dx="-1.6" font-size="21">2</tspan><tspan dy="-9.2" dx="-0.9" font-size="1">&#8203;</tspan>/Al<tspan dy="9.2" dx="-1.6" font-size="21">2</tspan><tspan dy="-9.2" dx="-0.9" font-size="1">&#8203;</tspan>O<tspan dy="9.2" dx="-1.6" font-size="21">3</tspan><tspan dy="-9.2" dx="-0.9" font-size="1">&#8203;</tspan></text>
<text x="148.50" y="1516.00" font-size="41">3</text>
<text x="234.50" y="1640.00" font-size="41">3</text>
<text x="374.50" y="1552.50" font-size="41">1</text>
<text x="346.10" y="1401.50" font-size="41">1</text>
<text x="521.90" y="1603.40" font-size="41">2</text>
<text x="32.10" y="1355.00" font-size="40.4" textLength="257.57" lengthAdjust="spacing" transform="rotate(-90 32.10 1355.00)">(Fe<tspan dy="7.8" dx="-1.6" font-size="21">2</tspan><tspan dy="-7.8" dx="-0.9" font-size="1">&#8203;</tspan>O<tspan dy="7.8" dx="-1.6" font-size="21">3</tspan><tspan dy="-7.8" dx="-0.9" font-size="1">&#8203;</tspan>* + MnO)</text>
<text x="76.00" y="1334.50" font-size="40.4" textLength="232.09" lengthAdjust="spacing" transform="rotate(-90 76.00 1334.50)">/(Al<tspan dy="7.8" dx="-1.6" font-size="21">2</tspan><tspan dy="-7.8" dx="-0.9" font-size="1">&#8203;</tspan>O<tspan dy="7.8" dx="-1.6" font-size="21">3</tspan><tspan dy="-7.8" dx="-0.9" font-size="1">&#8203;</tspan> + TiO<tspan dy="7.8" dx="-1.6" font-size="21">2</tspan><tspan dy="-7.8" dx="-0.9" font-size="1">&#8203;</tspan>)</text>
</g>
<g id="legend">
<path d="M809.2 1189.4L820.5 1178.1L831.8 1189.4L820.5 1200.7Z" fill="#e2231a" stroke="#0a0a0a" stroke-width="3" stroke-linejoin="miter"/>
<path d="M809.2 1231.9L820.5 1220.6L831.8 1231.9L820.5 1243.2Z" fill="#36a9e1" stroke="#0a0a0a" stroke-width="3" stroke-linejoin="miter"/>
<path d="M809.2 1274.4L820.5 1263.1L831.8 1274.4L820.5 1285.7Z" fill="#fdc010" stroke="#0a0a0a" stroke-width="3" stroke-linejoin="miter"/>
<rect x="808.7" y="1304.1" width="23.6" height="23.6" fill="#8dbe22" stroke="#0a0a0a" stroke-width="3"/>
<rect x="808.7" y="1346.6" width="23.6" height="23.6" fill="#54548c" stroke="#0a0a0a" stroke-width="3"/>
<rect x="808.7" y="1389.1" width="23.6" height="23.6" fill="#b9b9b9" stroke="#0a0a0a" stroke-width="3"/>
<circle cx="930.3" cy="1189.4" r="11.6" fill="#ea5b1b" stroke="#0a0a0a" stroke-width="3"/>
<circle cx="929.5" cy="1232.2" r="11.6" fill="#b9b9e0" stroke="#0a0a0a" stroke-width="3"/>
<circle cx="929.5" cy="1274.9" r="11.6" fill="#ffed00" stroke="#0a0a0a" stroke-width="3"/>
<path d="M930.0 1306.5L941.7 1329.5L918.3 1329.5Z" fill="#4caa34" stroke="#0a0a0a" stroke-width="3" stroke-linejoin="miter"/>
<circle cx="929.0" cy="1358.6" r="11.8" fill="#fdc010" stroke="#0a0a0a" stroke-width="3"/>
<circle cx="929.0" cy="1401.5" r="11.6" fill="#7db928" stroke="#0a0a0a" stroke-width="3"/>
<text x="858.50" y="1204.70" font-size="41">1</text>
<text x="968.30" y="1204.70" font-size="41">7</text>
<text x="859.00" y="1245.40" font-size="41">2</text>
<text x="968.50" y="1245.40" font-size="41">8</text>
<text x="857.80" y="1287.40" font-size="41">3</text>
<text x="968.50" y="1287.40" font-size="41">9</text>
<text x="858.50" y="1330.90" font-size="41">4</text>
<text x="970.00" y="1330.90" font-size="41" textLength="38.32" lengthAdjust="spacingAndGlyphs">10</text>
<text x="858.50" y="1372.80" font-size="41">5</text>
<text x="971.50" y="1372.80" font-size="41" textLength="34.35" lengthAdjust="spacingAndGlyphs">11</text>
<text x="858.50" y="1414.80" font-size="41">6</text>
<text x="969.50" y="1414.80" font-size="41" textLength="38.42" lengthAdjust="spacingAndGlyphs">12</text>
</g>
</svg>
</body></html>
